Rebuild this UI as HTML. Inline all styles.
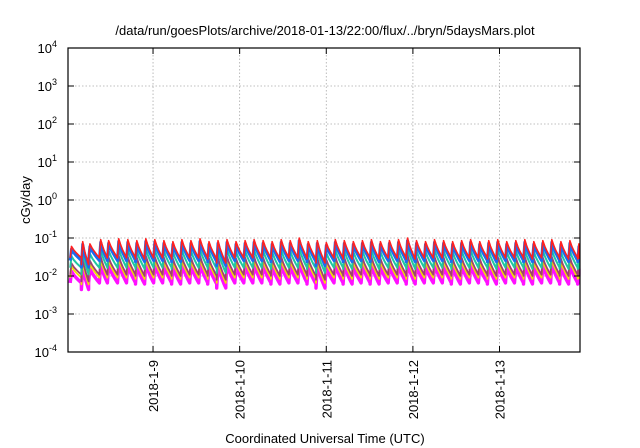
<!DOCTYPE html>
<html><head><meta charset="utf-8"><style>
body{margin:0;background:#fff}
svg{display:block;font-family:"Liberation Sans",sans-serif}
</style></head><body>
<svg id="chart" width="640" height="448" viewBox="0 0 640 448" xmlns="http://www.w3.org/2000/svg">
<rect x="0" y="0" width="640" height="448" fill="#fff"/>
<text x="325" y="35" font-size="13" text-anchor="middle">/data/run/goesPlots/archive/2018-01-13/22:00/flux/../bryn/5daysMars.plot</text>
<g id="grid"></g>
<g id="series"></g>
<rect x="68" y="48" width="512" height="304" fill="none" stroke="#000" stroke-width="1.2"/>
<g id="axes"></g>
<text transform="translate(30,200) rotate(-90)" font-size="13" text-anchor="middle">cGy/day</text>
<text x="325" y="443" font-size="13" text-anchor="middle">Coordinated Universal Time (UTC)</text>
</svg>
<script>
const yExponents=[4,3,2,1,0,-1,-2,-3,-4];
const xTickHours=[24,48,72,96,120];
const xTickLabels=["2018-1-9","2018-1-10","2018-1-11","2018-1-12","2018-1-13"];
const peakHours=[1.4,4.5,6.5,9.5,11.7,14.5,17,19.5,22,24.5,27,29.5,32,34.5,37,39.5,42,44.5,47,49.5,52,54.5,57,59.5,62,64.5,67,69.5,72,74.5,77,79.5,82,84.5,87,89.5,92,94.5,97,99.5,102,104.5,107,109.5,112,114.5,117,119.5,122,124.5,127,129.5,132,134.5,137,139.5,142];
const redPeak=[0.06,0.08,0.07,0.09,0.085,0.095,0.09,0.085,0.095,0.09,0.085,0.08,0.09,0.085,0.095,0.08,0.085,0.09,0.08,0.085,0.09,0.085,0.08,0.09,0.085,0.1,0.08,0.085,0.075,0.09,0.085,0.08,0.085,0.09,0.08,0.085,0.09,0.1,0.085,0.08,0.09,0.085,0.08,0.085,0.09,0.08,0.085,0.09,0.08,0.085,0.09,0.08,0.085,0.09,0.08,0.085,0.07];
const redTrough=[0.03,0.02,0.03,0.03,0.03,0.03,0.03,0.028,0.03,0.03,0.03,0.028,0.03,0.03,0.03,0.028,0.022,0.03,0.03,0.03,0.03,0.03,0.028,0.03,0.03,0.03,0.028,0.022,0.03,0.03,0.028,0.03,0.03,0.028,0.03,0.03,0.03,0.028,0.03,0.03,0.03,0.03,0.028,0.03,0.03,0.03,0.028,0.03,0.03,0.03,0.028,0.03,0.03,0.03,0.028,0.03,0.028];
const seriesNames=["red","blue","teal","purple","yellow","magenta"];
const seriesColors=["#ff2020","#1a6cf0","#20c8a0","#a04070","#f0e000","#ff10ff"];
const seriesWidths=[1.6,3,2,1.8,1.8,3.4];
const seriesScale=[1,0.85,0.55,0.36,0.3,0.22];

const X0=68,X1=580,Y0=48,Y1=352,H0=0.44,H1=142.3;
function xs(h){return X0+(h-H0)/(H1-H0)*(X1-X0);}
function ys(v){return Y1-(Math.log10(v)+4)/8*(Y1-Y0);}
const NS="http://www.w3.org/2000/svg";
function mk(tag,attrs,parent){const e=document.createElementNS(NS,tag);for(const k in attrs)e.setAttribute(k,attrs[k]);parent.appendChild(e);return e;}
const grid=document.getElementById('grid'),axes=document.getElementById('axes'),ser=document.getElementById('series');
yExponents.forEach(p=>{
  const y=ys(Math.pow(10,p));
  if(p<4&&p>-4){const l=mk('line',{x1:X0,x2:X1,y1:y,y2:y,stroke:'#aaa','stroke-width':0.8,'stroke-dasharray':'1.5,2'},grid);
  
  }
  mk('line',{x1:X0,x2:X0+6,y1:y,y2:y,stroke:'#000'},axes);
  mk('line',{x1:X1-6,x2:X1,y1:y,y2:y,stroke:'#000'},axes);
  const t=mk('text',{x:57,y:y+5,'font-size':13,'text-anchor':'end'},axes);
  
  
  t.textContent='10';
  const s=mk('tspan',{dy:-6,'font-size':9},t);s.textContent=String(p);
});
xTickHours.forEach((h,i)=>{
  const x=xs(h);
  const l=mk('line',{x1:x,x2:x,y1:Y0,y2:Y1,stroke:'#aaa','stroke-width':0.8,'stroke-dasharray':'1.5,2'},grid);
  
  
  mk('line',{x1:x,x2:x,y1:Y1,y2:Y1-6,stroke:'#000'},axes);
  mk('line',{x1:x,x2:x,y1:Y0,y2:Y0+6,stroke:'#000'},axes);
  const t=mk('text',{transform:`translate(${x+5},360) rotate(-90)`,'font-size':13,'text-anchor':'end'},axes);
  
  
  t.textContent=xTickLabels[i];
});
for(let s=seriesNames.length-1;s>=0;s--){
  let pts=[];
  for(let i=0;i<peakHours.length;i++){
    const h=peakHours[i],pk=redPeak[i]*seriesScale[s],tr=redTrough[i]*seriesScale[s];
    const nh=i+1<peakHours.length?peakHours[i+1]:H1;
    pts.push([h-0.35,tr]);pts.push([h,pk]);
    const span=nh-0.35-h;
    for(let k=1;k<=4;k++){const f=k/4;pts.push([h+span*f,pk*Math.pow(tr/pk,Math.pow(f,0.8))]);}
  }
  const d=pts.filter(p=>p[0]>=H0&&p[0]<=H1).map((p,j)=>(j?'L':'M')+xs(p[0]).toFixed(1)+','+ys(p[1]).toFixed(1)).join('');
  const path=mk('path',{d:d,fill:'none',stroke:seriesColors[s],'stroke-width':seriesWidths[s],'stroke-linejoin':'round'},ser);
  
  
}
</script>
</body></html>
